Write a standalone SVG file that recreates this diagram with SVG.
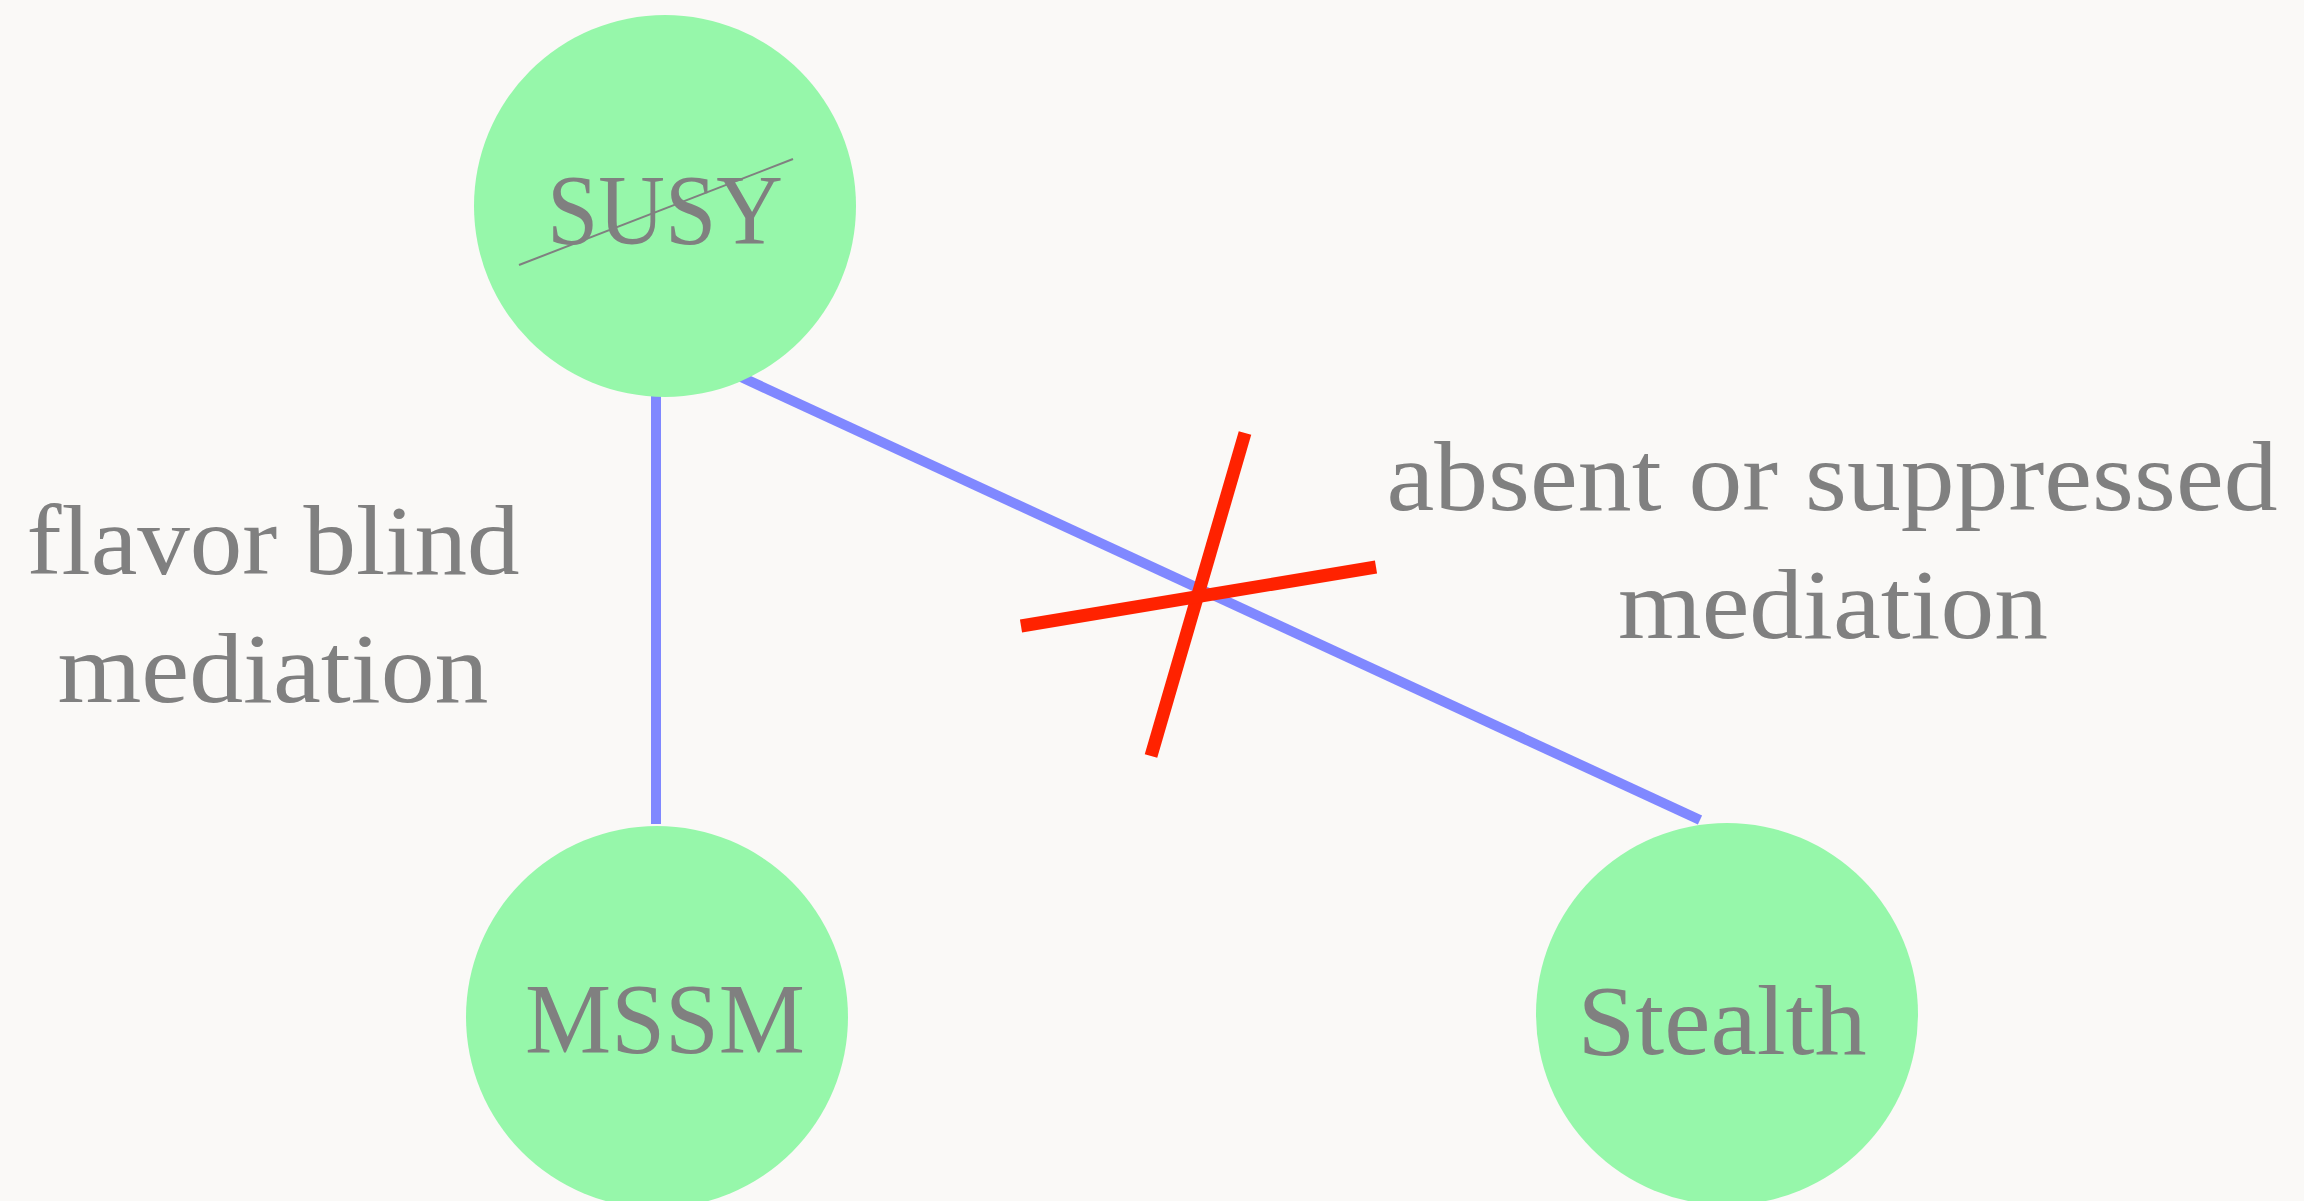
<svg xmlns="http://www.w3.org/2000/svg" width="2304" height="1201" viewBox="0 0 2304 1201">
<style>
.node{fill:#96f7aa}
.lbl{font-family:"Liberation Serif","DejaVu Serif",serif;font-size:100px;fill:#808080;text-anchor:middle}
.edge{stroke:#8088ff;stroke-width:10;fill:none}
.cross{stroke:#ff2200;stroke-width:13;fill:none}
</style>
<rect width="2304" height="1201" fill="#faf9f7"/>
<g id="connectors">
<line class="edge" x1="656" y1="394" x2="656" y2="824"/>
<line class="edge" x1="741" y1="377" x2="1700" y2="820"/>
<line class="cross" x1="1245" y1="433" x2="1151" y2="756"/>
<line class="cross" x1="1021" y1="626" x2="1376" y2="567"/>
</g>
<g id="susy">
<circle class="node" cx="665" cy="206" r="191"/>
<text class="lbl" x="665" y="243" textLength="236" lengthAdjust="spacingAndGlyphs">SUSY</text>
<line x1="519" y1="265" x2="793" y2="159" stroke="#808080" stroke-width="2"/>
</g>
<g id="mssm">
<circle class="node" cx="657" cy="1017" r="191"/>
<text class="lbl" x="665" y="1052" textLength="280" lengthAdjust="spacingAndGlyphs">MSSM</text>
</g>
<g id="stealth">
<circle class="node" cx="1727" cy="1014" r="191"/>
<text class="lbl" x="1722" y="1054" textLength="289" lengthAdjust="spacingAndGlyphs">Stealth</text>
</g>
<g id="label-flavor">
<text class="lbl" x="273" y="574" textLength="493" lengthAdjust="spacingAndGlyphs">flavor blind</text>
<text class="lbl" x="273" y="702" textLength="431" lengthAdjust="spacingAndGlyphs">mediation</text>
</g>
<g id="label-absent">
<text class="lbl" x="1832" y="510" textLength="891" lengthAdjust="spacingAndGlyphs">absent or suppressed</text>
<text class="lbl" x="1833" y="638" textLength="430" lengthAdjust="spacingAndGlyphs">mediation</text>
</g>
</svg>
